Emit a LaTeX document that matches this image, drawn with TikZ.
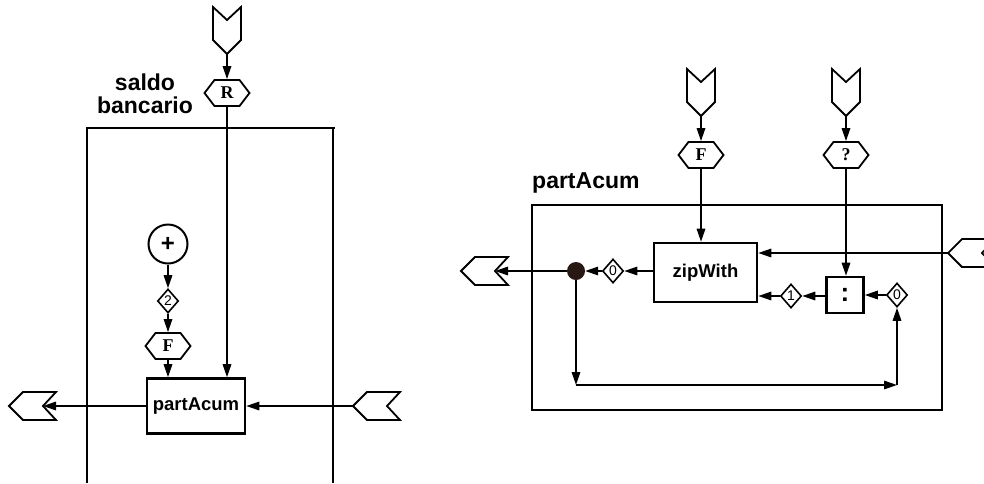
\documentclass[tikz,border=0pt]{standalone}
\usepackage{fontspec}
\setmainfont{Liberation Sans}
\newfontfamily\serifb{Liberation Serif}
\usetikzlibrary{arrows.meta,shapes.geometric,shapes.symbols}
\definecolor{dotbrown}{RGB}{40,24,20}
\begin{document}
\begin{tikzpicture}[x=1pt,y=-1pt,
  conn/.style={line width=1.6pt,-{Triangle[length=13pt,width=8.5pt]}},
  frameline/.style={line width=1.4pt},
  outline/.style={line width=1.8pt,line join=miter},
  fnbox/.style={draw,line width=2.6pt,font=\fontsize{18.5}{20}\selectfont\bfseries,inner sep=0pt},
  hexa/.style={draw,line width=1.8pt,signal,signal to=east and west,signal pointer angle=105,
    minimum width=45pt,minimum height=26pt,inner sep=0pt,font=\serifb\fontsize{18}{18}\selectfont\bfseries},
  dia/.style={draw,diamond,line width=1.6pt,minimum width=21pt,minimum height=24pt,inner sep=0pt,
    font=\fontsize{14}{14}\selectfont},
  titletext/.style={font=\fontsize{23}{23}\selectfont\bfseries,align=center,inner sep=0pt},
  chevL/.pic={\draw[outline] (0,0) -- (14,-14) -- (47,-14) -- (34,0) -- (47,14) -- (14,14) -- cycle;
    \coordinate (-tip) at (0,0); \coordinate (-notch) at (34,0);},
  chevD/.pic={\draw[outline] (0,0) -- (-14,-14) -- (-14,-47) -- (0,-34) -- (14,-47) -- (14,-14) -- cycle;
    \coordinate (-tip) at (0,0);}
]
\useasboundingbox (0,0) rectangle (984,483);

% ---------- left diagram ----------
\draw[frameline] (87,483) -- (87,128) -- (335,128);
\draw[frameline] (333,128) -- (333,483);
\node[titletext] (saldo) at (145,94) {saldo\\bancario};

\pic (inR) at (227,54) {chevD};
\node[hexa] (R) at (227,93) {R};
\node[fnbox,minimum width=98pt,minimum height=55pt] (pa) at (196,406) {partAcum};
\node[draw,circle,line width=2pt,minimum size=39pt,inner sep=0pt,
  font=\fontsize{24}{24}\selectfont\bfseries] (plus) at (168,244) {+};
\node[dia] (two) at (168,301) {2};
\node[hexa] (F1) at (168,346) {F};
\pic (outL) at (9,406) {chevL};
\pic (inRt) at (353,406) {chevL};

\draw[conn] (inR-tip) -- (R.north);
\draw[conn] (R.south) -- (R.south |- pa.north);
\draw[conn] (plus) -- (two);
\draw[conn] (two) -- (F1);
\draw[conn] (F1) -- (F1 |- pa.north);
\draw[conn] (pa.west) -- (outL-notch);
\draw[conn] (inRt-tip) -- (pa.east);

% ---------- right diagram ----------
\node[titletext,anchor=base west] (t2) at (532,188) {partAcum};
\draw[frameline] (532,205) rectangle (942,410);

\pic (inF) at (701,116) {chevD};
\node[hexa] (F2) at (701,155) {F};
\pic (inQ) at (846,116) {chevD};
\node[hexa] (Q) at (846,155) {?};
\node[fnbox,minimum width=103pt,minimum height=59pt] (zw) at (705.5,272.5) {zipWith};
\node[fnbox,minimum width=37pt,minimum height=36pt,font=\fontsize{26}{26}\selectfont\bfseries] (cons) at (845,295) {:};
\node[dia] (z1) at (613,271) {0};
\node[dia] (one) at (791,296) {1};
\node[dia] (z2) at (897,295) {0};
\node[circle,fill=dotbrown,minimum size=18pt,inner sep=0pt] (dot) at (576,271) {};
\pic (outR) at (461,271) {chevL};
\pic (inZ) at (948,253) {chevL};
\coordinate (c1) at (576,385);
\coordinate (c2) at (897,385);

\draw[conn] (inF-tip) -- (F2.north);
\draw[conn] (F2.south) -- (F2.south |- zw.north);
\draw[conn] (inQ-tip) -- (Q.north);
\draw[conn] (Q.south) -- (Q.south |- cons.north);
\draw[conn] (inZ-tip) -- (inZ-tip -| zw.east);
\draw[conn] (z2.west) -- (z2.west -| cons.east);
\draw[conn] (cons.west |- one) -- (one.east);
\draw[conn] (one.west) -- (one -| zw.east);
\draw[conn] (zw.west |- z1) -- (z1.east);
\draw[conn] (z1.west) -- (dot);
\draw[conn] (dot) -- (outR-notch);
\draw[conn] (dot) -- (c1);
\draw[conn] (c1) -- (c2);
\draw[conn] (c2) -- (z2.south);
\end{tikzpicture}
\end{document}
